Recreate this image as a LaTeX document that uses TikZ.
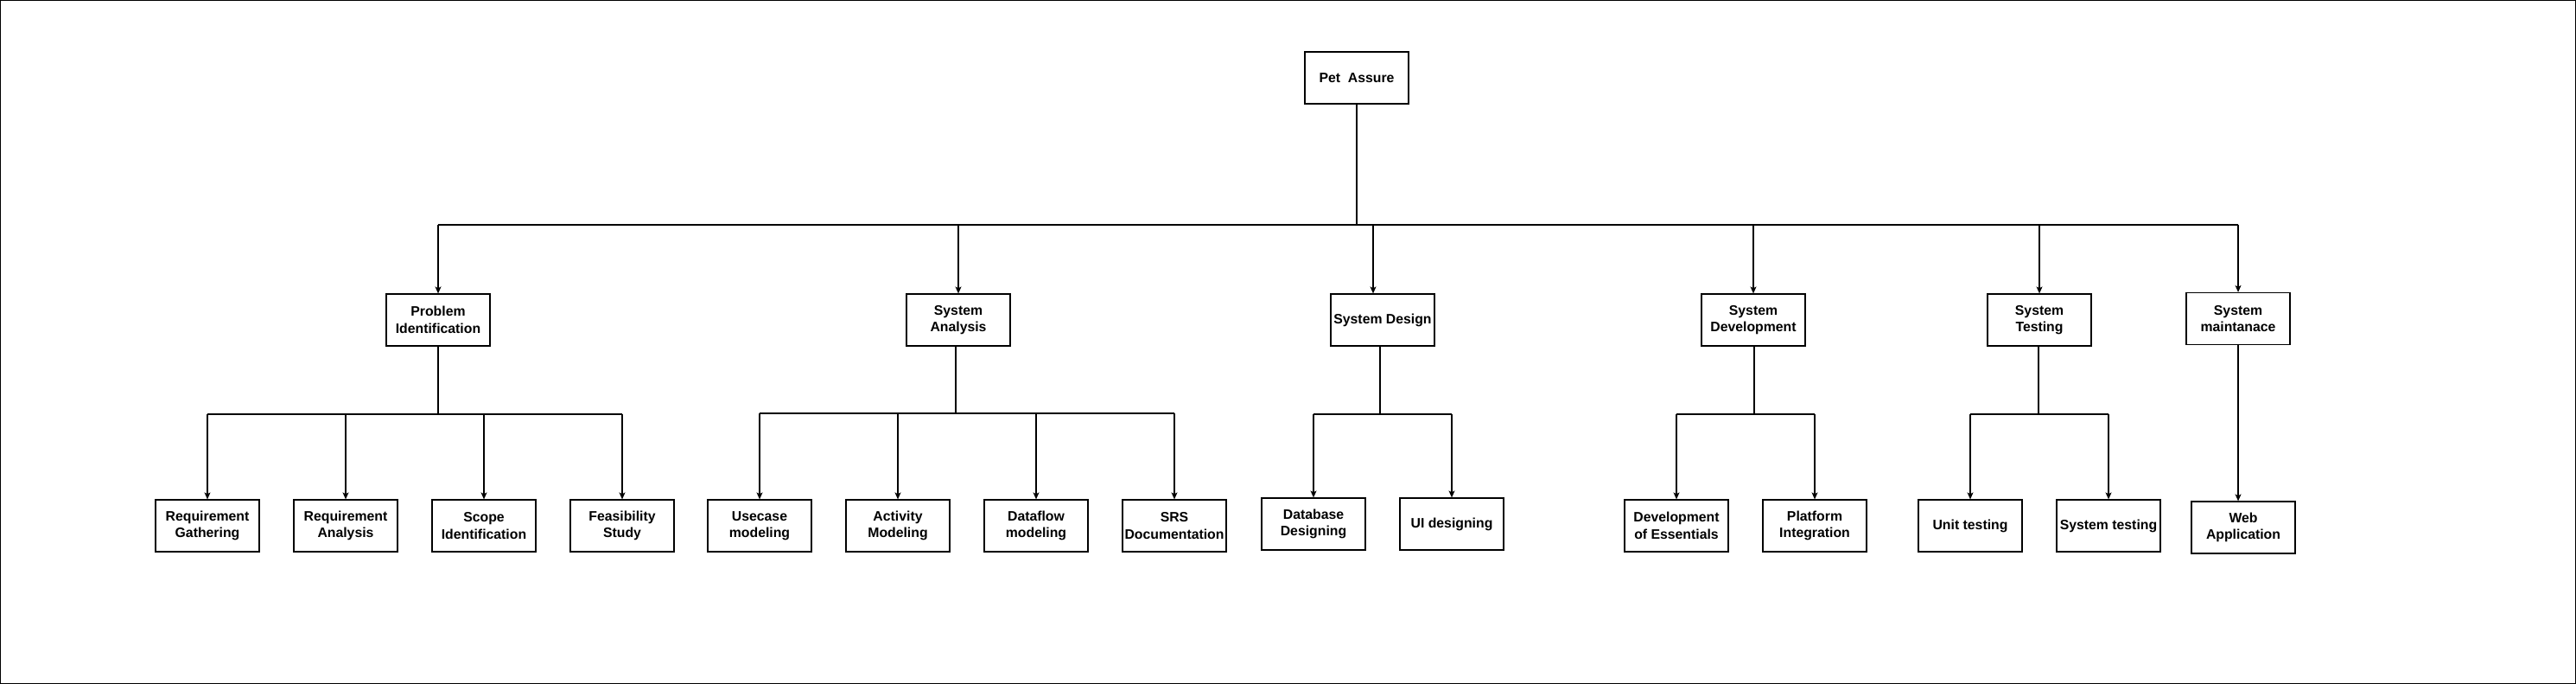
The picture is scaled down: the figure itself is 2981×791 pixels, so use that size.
\documentclass[tikz,border=0pt]{standalone}
\usepackage{fontspec}
\setmainfont{Liberation Sans}
\usetikzlibrary{arrows.meta,positioning}

\begin{document}
\begin{tikzpicture}[x=1pt,y=-1pt,node distance=160pt,on grid,
   box/.style={draw,line width=1.2pt,minimum width=120pt,minimum height=60pt,inner sep=0pt,align=center,
      font=\bfseries\fontsize{15.8}{19.5}\selectfont},
   link/.style={line width=1.1pt},
   arr/.style={link,-{Stealth[length=8pt,width=7pt,inset=2pt]}}]
   \useasboundingbox (0,0) rectangle (2981,791);
   \draw[line width=1pt] (0.5,0.5) rectangle (2980.5,790.5);
   \node[box] (pa) at (1570,90) {Pet\ \ Assure};
   \node[box] (pi) at (507,370) {Problem\\Identification};
   \node[box] (sa) at (1109,370) {System\\Analysis};
   \node[box] (sd) at (1600,370) {System Design};
   \node[box] (sdv) at (2029,370) {System\\Development};
   \node[box] (st) at (2360,370) {System\\Testing};
   \node[box] (sm) at (2590,368.5) {System\\maintanace};
   \node[box] (rg) at (240,608) {Requirement\\Gathering};
   \node[box] (ra) [right=of rg] {Requirement\\Analysis};
   \node[box] (si) [right=of ra] {Scope\\Identification};
   \node[box] (fs) [right=of si] {Feasibility\\Study};
   \node[box] (um) at (879,608) {Usecase\\modeling};
   \node[box] (am) [right=of um] {Activity\\Modeling};
   \node[box] (dm) [right=of am] {Dataflow\\modeling};
   \node[box] (srs) [right=of dm] {SRS\\Documentation};
   \node[box] (dbd) at (1520,606) {Database\\Designing};
   \node[box] (uid) [right=of dbd] {UI designing};
   \node[box] (doe) at (1940,608) {Development\\of Essentials};
   \node[box] (pint) [right=of doe] {Platform\\Integration};
   \node[box] (ut) at (2280,608) {Unit testing};
   \node[box] (syt) [right=of ut] {System testing};
   \node[box] (wa) at (2596,610) {Web\\Application};

   \coordinate (bus) at (1570,260);
   \path ([xshift=-11pt]sd.north) coordinate (sdin);
   \draw[link] (pa.south) -- (bus);
   \draw[link] (pi.north |- bus) -- (sm.north |- bus);
   \foreach \n in {pi.north,sa.north,sdin,sdv.north,st.north,sm.north}
      \draw[arr] (\n |- bus) -- (\n);

   \coordinate (pib) at (507,479);
   \coordinate (sab) at (1106,478);
   \coordinate (sdb) at (1597,479);
   \coordinate (sdvb) at (2030,479);
   \coordinate (stb) at (2359,479);
   \draw[link] (pi.south) -- (pib);
   \draw[link] (sa.south -| sab) -- (sab);
   \draw[link] (sd.south -| sdb) -- (sdb);
   \draw[link] (sdv.south -| sdvb) -- (sdvb);
   \draw[link] (st.south -| stb) -- (stb);
   \draw[link] (rg.north |- pib) -- (fs.north |- pib);
   \draw[link] (um.north |- sab) -- (srs.north |- sab);
   \draw[link] (dbd.north |- sdb) -- (uid.north |- sdb);
   \draw[link] (doe.north |- sdvb) -- (pint.north |- sdvb);
   \draw[link] (ut.north |- stb) -- (syt.north |- stb);
   \foreach \n in {rg,ra,si,fs}
      \draw[arr] (\n.north |- pib) -- (\n.north);
   \foreach \n in {um,am,dm,srs}
      \draw[arr] (\n.north |- sab) -- (\n.north);
   \foreach \n in {dbd,uid}
      \draw[arr] (\n.north |- sdb) -- (\n.north);
   \foreach \n in {doe,pint}
      \draw[arr] (\n.north |- sdvb) -- (\n.north);
   \foreach \n in {ut,syt}
      \draw[arr] (\n.north |- stb) -- (\n.north);
   \draw[arr] (sm.south) -- (sm.south |- wa.north);
\end{tikzpicture}
\end{document}
